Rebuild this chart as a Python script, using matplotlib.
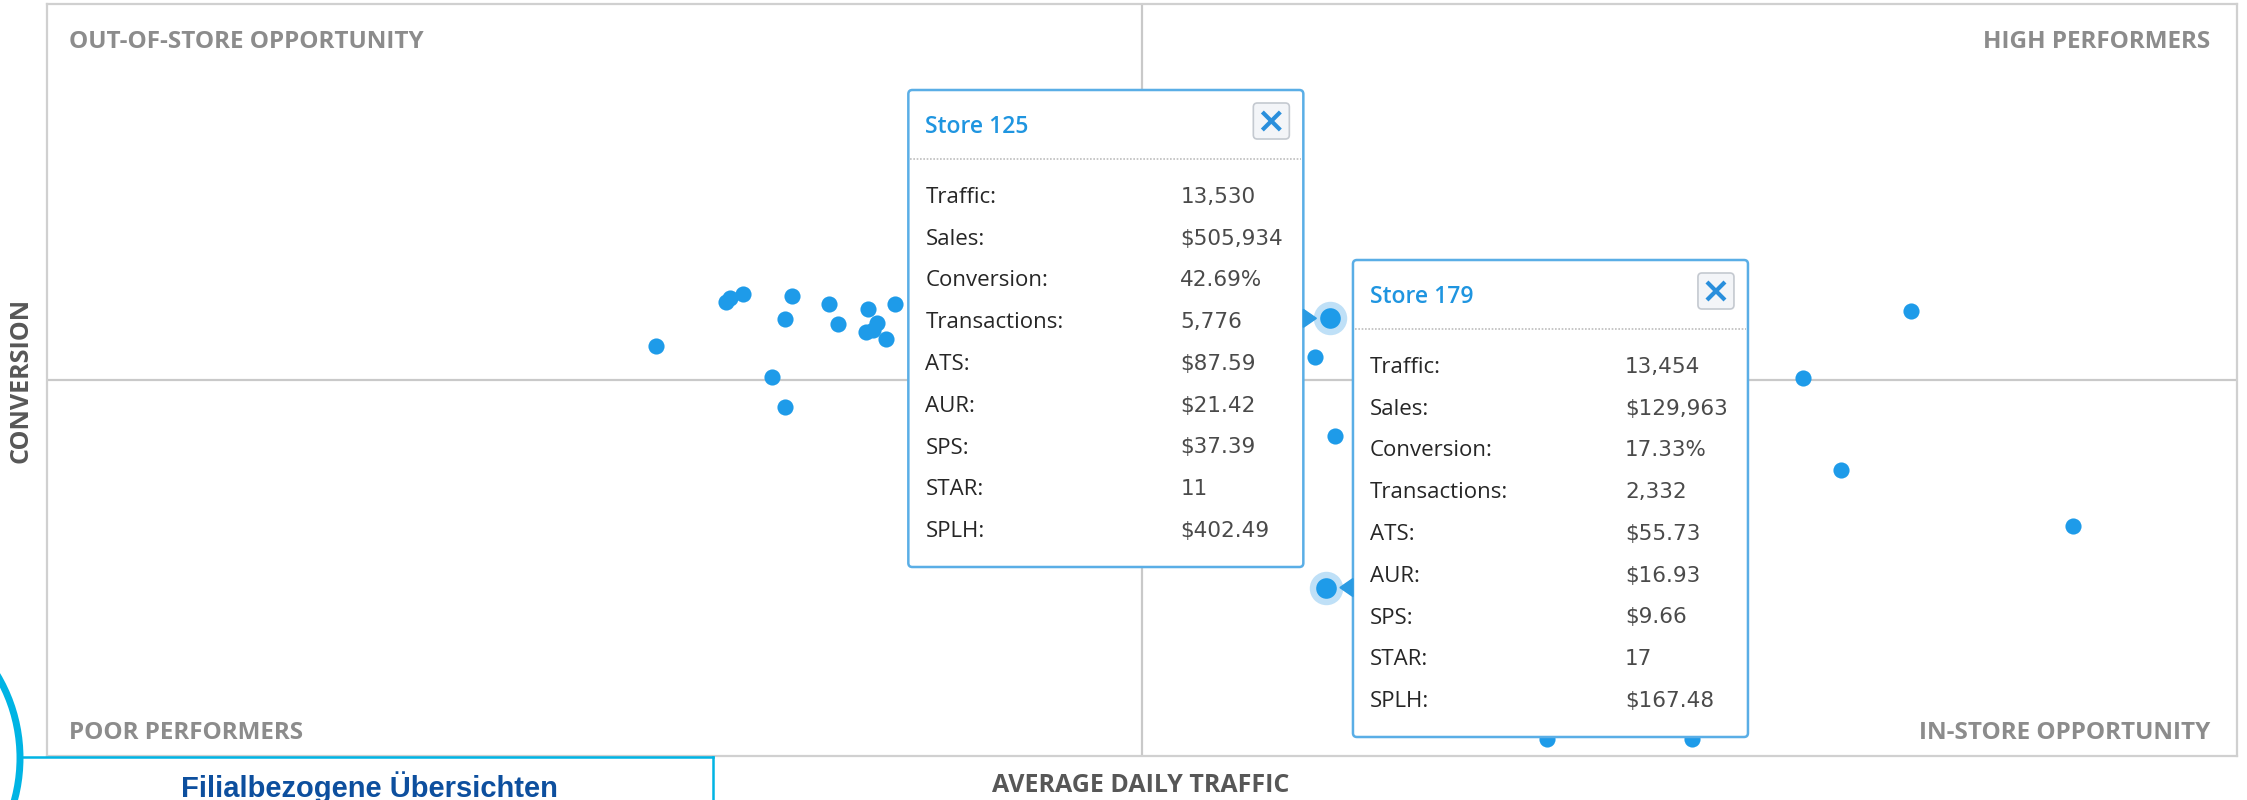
import matplotlib
matplotlib.use("Agg")
import matplotlib.pyplot as plt
from matplotlib.patches import FancyBboxPatch, Circle, Polygon

# Filialen: Traffic / Conversion auf einer 0..100 Skala, Quadrantengrenze bei 50
traffic = [27.8, 31.0, 31.2, 31.8, 34.0, 33.7, 35.7, 36.1, 37.5, 37.4, 37.9, 38.3,
           38.7, 37.7, 33.1, 33.7, 57.9, 58.8, 85.1, 80.2, 81.9, 92.5, 68.5, 75.1]
conversion = [54.5, 60.4, 60.9, 61.5, 61.2, 58.1, 60.1, 57.5, 59.5, 56.4, 57.6, 55.5,
              60.1, 56.6, 50.4, 46.4, 53.0, 42.6, 59.2, 50.2, 38.0, 30.6, 2.3, 2.3]

# hervorgehobene Filialen
store_names = ["Store 125", "Store 179"]
store_traffic = [58.6, 58.4]
store_conversion = [58.2, 22.4]

row_labels = ["Traffic:", "Sales:", "Conversion:", "Transactions:", "ATS:",
              "AUR:", "SPS:", "STAR:", "SPLH:"]
store_125_values = ["13,530", "$505,934", "42.69%", "5,776", "$87.59",
                    "$21.42", "$37.39", "11", "$402.49"]
store_179_values = ["13,454", "$129,963", "17.33%", "2,332", "$55.73",
                    "$16.93", "$9.66", "17", "$167.48"]

quadrant_labels = ["OUT-OF-STORE OPPORTUNITY", "HIGH PERFORMERS",
                   "POOR PERFORMERS", "IN-STORE OPPORTUNITY"]

W, H = 2247, 800
BLUE = "#1e9be9"
GRID = "#c9c9c9"

fig = plt.figure(figsize=(W / 100, H / 100), dpi=100)
ax = fig.add_axes([47 / W, 44 / H, 2190 / W, 752 / H])
ax.set_xlim(0, 100)
ax.set_ylim(0, 100)
ax.set_xticks([])
ax.set_yticks([])
for s in ax.spines.values():
    s.set_color("#d0d0d0")
    s.set_linewidth(1.6)
ax.axvline(50, color=GRID, lw=1.6, zorder=1)
ax.axhline(50, color=GRID, lw=1.6, zorder=1)

ax.scatter(traffic, conversion, s=135, color=BLUE, lw=0, zorder=3)
ax.scatter(store_traffic, store_conversion, s=580, color="#bfe0f7", lw=0, zorder=3)
ax.scatter(store_traffic, store_conversion, s=220, color=BLUE, lw=0, zorder=4)

qfont = dict(family="Open Sans", fontweight="bold", fontsize=17.5, color="#8c8c8c")
ax.text(1.0, 96.6, quadrant_labels[0], ha="left", va="top", **qfont)
ax.text(98.8, 96.6, quadrant_labels[1], ha="right", va="top", **qfont)
ax.text(1.0, 2.3, quadrant_labels[2], ha="left", va="baseline", **qfont)
ax.text(98.8, 2.3, quadrant_labels[3], ha="right", va="baseline", **qfont)

afont = dict(family="Open Sans", fontweight="bold", fontsize=18, color="#575757")
fig.text(1141 / W, 1 - 785 / H, "AVERAGE DAILY TRAFFIC", ha="center", va="center", **afont)
fig.text(21 / W, 1 - 380 / H, "CONVERSION", ha="center", va="center", rotation=90, **afont)

# Overlay in Pixelkoordinaten fuer Tooltips und Rahmen
ov = fig.add_axes([0, 0, 1, 1], zorder=5)
ov.set_xlim(0, W)
ov.set_ylim(H, 0)
ov.axis("off")


def to_px(x, y):
    dx, dy = ax.transData.transform((x, y))
    return dx, H - dy


def tooltip(px, py, title, values, side, top):
    tw, th = 395, 477
    if side == "left":
        left = px - 27 - tw
        tri = [(left + tw, py - 9), (left + tw, py + 9), (left + tw + 13, py)]
    else:
        left = px + 27
        tri = [(left, py - 9), (left, py + 9), (left - 13, py)]
    ov.add_patch(FancyBboxPatch((left, top), tw, th,
                                boxstyle="round,pad=0,rounding_size=4",
                                fc="white", ec="#5aaee6", lw=1.8, zorder=2))
    ov.add_patch(Polygon(tri, closed=True, color="#2a9be3", zorder=3))
    ov.text(left + 17, top + 43, title, color="#1f95e0", family="Open Sans",
            fontweight="semibold", fontsize=16.5, va="baseline")
    ov.plot([left + 2, left + tw - 2], [top + 69, top + 69], color="#bdbdbd",
            lw=1.2, ls=(0, (1, 1)), zorder=3)
    # Schliessen-Knopf
    ov.add_patch(FancyBboxPatch((left + 345, top + 13), 36, 36,
                                boxstyle="round,pad=0,rounding_size=4",
                                fc="#f3f5f8", ec="#c4c9d0", lw=1.2, zorder=3))
    cx, cy = left + 363, top + 31
    ov.plot([cx - 9, cx + 9], [cy - 9, cy + 9], color="#2a8fdc", lw=3, zorder=4,
            solid_capstyle="butt")
    ov.plot([cx - 9, cx + 9], [cy + 9, cy - 9], color="#2a8fdc", lw=3, zorder=4,
            solid_capstyle="butt")
    for i, (lab, val) in enumerate(zip(row_labels, values)):
        yb = top + 113 + i * 41.75
        ov.text(left + 17, yb, lab, color="#262626", family="Open Sans",
                fontweight="medium", fontsize=16, va="baseline", zorder=4)
        ov.text(left + 272, yb, val.replace("$", r"\$"), color="#4a4a4a",
                family="DejaVu Sans", fontsize=15.5, va="baseline", zorder=4)


fig.canvas.draw()
p125 = to_px(store_traffic[0], store_conversion[0])
p179 = to_px(store_traffic[1], store_conversion[1])
tooltip(p125[0], p125[1], store_names[0], store_125_values, "left", 90)
tooltip(p179[0], p179[1], store_names[1], store_179_values, "right", 260)

# Beschriftungsbox unten links
CYAN = "#00b4e4"
ov.add_patch(Circle((-142, 758), 162, fill=False, ec=CYAN, lw=5, zorder=6))
ov.add_patch(plt.Rectangle((20, 757), 693, 60, fc="white", ec="none", zorder=5))
ov.plot([20, 713], [757, 757], color=CYAN, lw=1.8, zorder=6)
ov.plot([713, 713], [757, 800], color=CYAN, lw=1.8, zorder=6)
ov.text(369, 797, "Filialbezogene Übersichten", ha="center", va="baseline",
        family="Liberation Sans", fontweight="bold", fontsize=21, color="#0d4f9e",
        zorder=7)

fig.savefig("out.png", dpi=100)
